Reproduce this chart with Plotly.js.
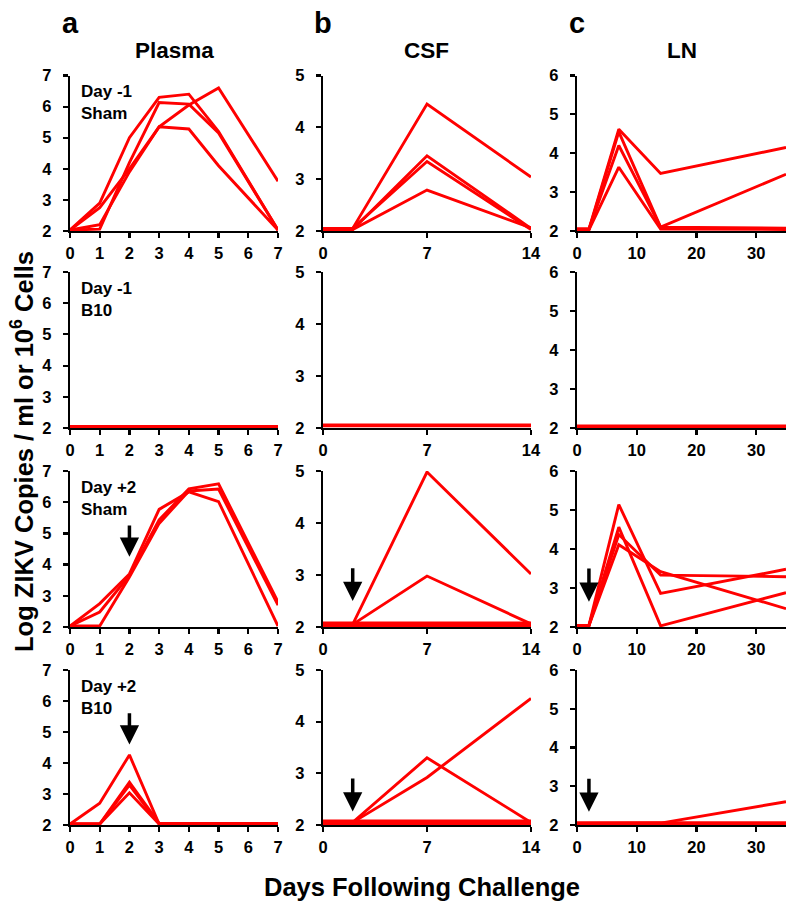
<!DOCTYPE html>
<html>
<head>
<meta charset="utf-8">
<script src="https://cdn.plot.ly/plotly-3.0.1.min.js"></script>
<style>html,body{margin:0;padding:0;background:#fff;}#chart{width:800px;height:917px;}</style>
</head>
<body>
<div id="chart"></div>
<script>
// x values (days following challenge)
const plasmaDays = [0, 1, 2, 3, 4, 5, 7];
const csfDays = [0, 2, 7, 14];
const lnDays = [0, 2, 7, 14, 35];

// Row 1: Day -1 Sham
const plasmaDm1Sham = [
  [2.03, 2.9, 5.0, 6.3, 6.4, 5.2, 2.03],
  [2.03, 2.06, 4.2, 6.13, 6.08, 5.15, 2.03],
  [2.03, 2.75, 4.0, 5.35, 5.28, 4.1, 2.03],
  [2.03, 2.2, 3.9, 5.35, 6.05, 6.6, 3.6]
];
const csfDm1Sham = [
  [2.05, 2.05, 4.45, 3.04],
  [2.03, 2.03, 3.45, 2.05],
  [2.05, 2.05, 3.34, 2.03],
  [2.03, 2.03, 2.79, 2.06]
];
const lnDm1Sham = [
  [2.05, 2.05, 4.62, 3.48, 4.15],
  [2.03, 2.03, 4.55, 2.1, 3.46],
  [2.05, 2.05, 4.2, 2.1, 2.07],
  [2.03, 2.03, 3.64, 2.05, 2.04]
];
// Row 2: Day -1 B10
const plasmaDm1B10 = [
  [2.03, 2.03, 2.03, 2.03, 2.03, 2.03, 2.03],
  [2.05, 2.05, 2.05, 2.05, 2.05, 2.05, 2.05],
  [2.04, 2.04, 2.04, 2.04, 2.04, 2.04, 2.04]
];
const csfDm1B10 = [
  [2.04, 2.04, 2.04, 2.04],
  [2.06, 2.06, 2.06, 2.06]
];
const lnDm1B10 = [
  [2.03, 2.03, 2.03, 2.03, 2.03],
  [2.05, 2.05, 2.05, 2.05, 2.05]
];
// Row 3: Day +2 Sham
const plasmaDp2Sham = [
  [2.03, 2.75, 3.7, 5.77, 6.33, 6.02, 2.03],
  [2.03, 2.48, 3.65, 5.43, 6.43, 6.59, 2.8],
  [2.03, 2.03, 3.6, 5.32, 6.36, 6.42, 2.7]
];
const csfDp2Sham = [
  [2.05, 2.05, 4.98, 3.02],
  [2.05, 2.05, 2.98, 2.06],
  [2.03, 2.03, 2.03, 2.03],
  [2.08, 2.08, 2.08, 2.08]
];
const lnDp2Sham = [
  [2.04, 2.04, 5.14, 2.86, 3.48],
  [2.04, 2.04, 4.56, 2.03, 2.88],
  [2.04, 2.04, 4.37, 3.33, 3.29],
  [2.04, 2.04, 4.11, 3.42, 2.47]
];
// Row 4: Day +2 B10
const plasmaDp2B10 = [
  [2.03, 2.7, 4.26, 2.03, 2.03, 2.03, 2.03],
  [2.03, 2.03, 3.38, 2.05, 2.05, 2.05, 2.05],
  [2.03, 2.03, 3.29, 2.04, 2.04, 2.04, 2.04],
  [2.03, 2.03, 3.04, 2.03, 2.03, 2.03, 2.03]
];
const csfDp2B10 = [
  [2.05, 2.05, 3.3, 2.05],
  [2.05, 2.05, 2.92, 4.45],
  [2.03, 2.03, 2.03, 2.03],
  [2.08, 2.08, 2.08, 2.08]
];
const lnDp2B10 = [
  [2.04, 2.04, 2.04, 2.05, 2.6],
  [2.03, 2.03, 2.03, 2.03, 2.03],
  [2.06, 2.06, 2.06, 2.06, 2.06]
];

const groupLabels = ['Day -1<br>Sham', 'Day -1<br>B10', 'Day +2<br>Sham', 'Day +2<br>B10'];
const columnTitles = ['Plasma', 'CSF', 'LN'];
const columnLetters = ['a', 'b', 'c'];
const plasmaTicks = [0, 1, 2, 3, 4, 5, 6, 7];
const csfTicks = [0, 7, 14];
const lnTicks = [0, 10, 20, 30];

const panels = [
  [plasmaDm1Sham, csfDm1Sham, lnDm1Sham],
  [plasmaDm1B10, csfDm1B10, lnDm1B10],
  [plasmaDp2Sham, csfDp2Sham, lnDp2Sham],
  [plasmaDp2B10, csfDp2B10, lnDp2B10]
];
const colDays = [plasmaDays, csfDays, lnDays];
const colTicks = [plasmaTicks, csfTicks, lnTicks];
const colXRange = [[0, 7], [0, 14], [0, 35]];
const colYMax = [7, 5, 6];

// layout geometry (pixels)
const W = 800, H = 917;
const colPx = [[70, 278], [323, 531], [577, 786]];
const rowPx = [[75.5, 231], [272, 428], [471, 627], [670, 825]];

const BOLD = {family: 'Liberation Sans, Arial, sans-serif', weight: 'bold', color: '#000'};
const traces = [];
const layout = {
  width: W, height: H, margin: {l: 0, r: 0, t: 0, b: 0},
  paper_bgcolor: '#fff', plot_bgcolor: 'rgba(0,0,0,0)',
  showlegend: false, annotations: []
};

for (let r = 0; r < 4; r++) {
  for (let c = 0; c < 3; c++) {
    const n = r * 3 + c + 1;
    const xa = 'x' + n, ya = 'y' + n;
    panels[r][c].forEach(vals => {
      traces.push({
        x: colDays[c], y: vals, xaxis: xa, yaxis: ya, type: 'scatter', mode: 'lines',
        line: {color: '#ff0000', width: 2.9}, hoverinfo: 'skip'
      });
    });
    const yt = [];
    for (let v = 2; v <= colYMax[c]; v++) yt.push(v);
    layout['xaxis' + n] = {
      domain: [colPx[c][0] / W, colPx[c][1] / W], anchor: ya,
      range: colXRange[c], tickvals: colTicks[c], ticktext: colTicks[c].map(String),
      showline: true, linecolor: '#000', linewidth: 2.2, ticks: 'outside', ticklen: 5,
      tickwidth: 2.2, tickcolor: '#000', showgrid: false, zeroline: false, ticklabelstandoff: 1,
      tickfont: Object.assign({size: 16.5}, BOLD), layer: 'below traces', fixedrange: true
    };
    layout['yaxis' + n] = {
      domain: [(H - rowPx[r][1]) / H, (H - rowPx[r][0]) / H], anchor: xa,
      range: [2, colYMax[c]], tickvals: yt, ticktext: yt.map(String),
      showline: true, linecolor: '#000', linewidth: 2.2, ticks: 'outside', ticklen: 5,
      tickwidth: 2.2, tickcolor: '#000', showgrid: false, zeroline: false, ticklabelstandoff: 8,
      tickfont: Object.assign({size: 16.5}, BOLD), layer: 'below traces', fixedrange: true
    };
  }
}

// group labels
for (let r = 0; r < 4; r++) {
  layout.annotations.push({
    xref: 'paper', yref: 'paper', x: 79 / W, y: (H - rowPx[r][0] - 5) / H,
    xanchor: 'left', yanchor: 'top', align: 'left', showarrow: false,
    text: groupLabels[r], font: Object.assign({size: 17}, BOLD)
  });
}
// column letters and titles
for (let c = 0; c < 3; c++) {
  layout.annotations.push({
    xref: 'paper', yref: 'paper', x: colPx[c][0] / W, y: (H - 23) / H,
    xanchor: 'center', yanchor: 'middle', showarrow: false,
    text: columnLetters[c], font: Object.assign({size: 29}, BOLD)
  });
  layout.annotations.push({
    xref: 'paper', yref: 'paper', x: ((colPx[c][0] + colPx[c][1]) / 2) / W, y: (H - 51) / H,
    xanchor: 'center', yanchor: 'middle', showarrow: false,
    text: columnTitles[c], font: Object.assign({size: 22.5}, BOLD)
  });
}
// axis titles
layout.annotations.push({
  xref: 'paper', yref: 'paper', x: 22 / W, y: (H - 452) / H, textangle: -90,
  xanchor: 'center', yanchor: 'middle', showarrow: false,
  text: 'Log ZIKV Copies / ml or 10<sup>6</sup> Cells', font: Object.assign({size: 25.5}, BOLD)
});
layout.annotations.push({
  xref: 'paper', yref: 'paper', x: 422 / W, y: (H - 887) / H,
  xanchor: 'center', yanchor: 'middle', showarrow: false,
  text: 'Days Following Challenge', font: Object.assign({size: 25.5}, BOLD)
});

// treatment arrows (x, tip y, tail y) per panel axis index
const arrowDefs = [
  {n: 7, x: 2, tip: 4.25, tail: 5.3},
  {n: 10, x: 2, tip: 4.6, tail: 5.65},
  {n: 8, x: 2, tip: 2.5, tail: 3.16},
  {n: 11, x: 2, tip: 2.26, tail: 2.93},
  {n: 9, x: 2, tip: 2.65, tail: 3.54},
  {n: 12, x: 2, tip: 2.34, tail: 3.23}
];
arrowDefs.forEach(a => {
  layout.annotations.push({
    xref: 'x' + a.n, yref: 'y' + a.n, axref: 'x' + a.n, ayref: 'y' + a.n,
    x: a.x, y: a.tip, ax: a.x, ay: a.tail, text: '', showarrow: true,
    arrowhead: 2, arrowsize: 1.1, arrowwidth: 3.5, arrowcolor: '#000', standoff: 0, startstandoff: 0
  });
});

Plotly.newPlot('chart', traces, layout, {displayModeBar: false, staticPlot: true});
</script>
</body>
</html>
